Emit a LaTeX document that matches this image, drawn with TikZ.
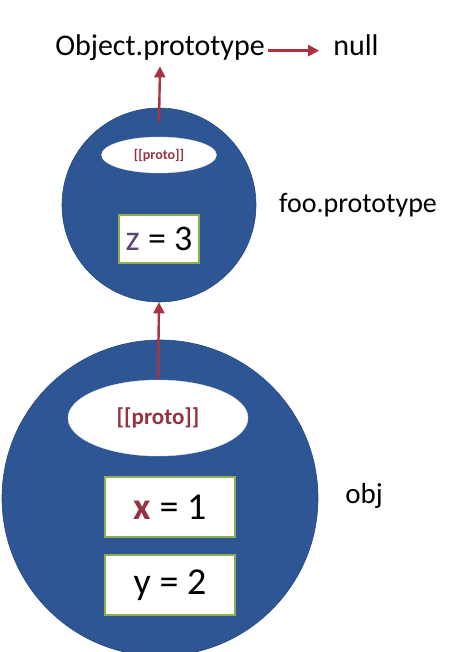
\documentclass[tikz,border=0pt]{standalone}
\usepackage{fontspec}
\setmainfont{Carlito}
\usetikzlibrary{shapes.geometric,arrows.meta}
\definecolor{blobblue}{RGB}{46,86,148}
\definecolor{linkred}{RGB}{168,52,64}
\definecolor{protored}{RGB}{150,50,65}
\definecolor{boxgreen}{RGB}{140,176,80}
\definecolor{zpurple}{RGB}{90,70,110}
\tikzset{
  blob/.style={circle, fill=blobblue, draw=blobblue!85!black, line width=0.6pt, inner sep=0pt},
  protoell/.style={ellipse, fill=white, draw=white!85!blobblue, inner sep=0pt, text=protored},
  valbox/.style={rectangle, fill=white, draw=boxgreen, line width=1.2pt, inner sep=0pt},
  label/.style={inner sep=0pt, text=black},
  link/.style={draw=linkred, line width=2.4pt, -{Triangle[length=11pt,width=11pt]}},
}
\begin{document}
\begin{tikzpicture}[x=1pt,y=-1pt]
\useasboundingbox (0,0) rectangle (464,652);
\clip (0,0) rectangle (464,652);
% texts at top
\node[label, font=\fontsize{30}{36}\selectfont, anchor=base] (objproto) at (160,56) {Object.prototype};
\node[label, font=\fontsize{30}{36}\selectfont, anchor=base] (null) at (356,56) {null};
% top circle
\node[blob, minimum size=194pt] (foo) at (159,205) {};
\node[protoell, minimum width=115pt, minimum height=36pt, font=\fontsize{14}{16}\selectfont\bfseries] (p1) at (159,155) {[[proto]]};
\node[valbox, minimum width=80pt, minimum height=48pt, font=\fontsize{36}{40}\selectfont] (z) at (159,239) {\textcolor{zpurple}{z} = 3};
\node[label, font=\fontsize{28}{32}\selectfont, anchor=base] (foolab) at (358,212) {foo.prototype};
% bottom circle
\node[blob, minimum size=316pt] (obj) at (160,498) {};
\node[protoell, minimum width=180pt, minimum height=76pt, font=\fontsize{23}{26}\selectfont\bfseries] (p2) at (158,418) {[[proto]]};
\node[valbox, minimum width=130pt, minimum height=60pt, font=\fontsize{38}{42}\selectfont] (x) at (170,507) {\textcolor{protored}{\bfseries x} = 1};
\node[valbox, minimum width=130pt, minimum height=60pt, font=\fontsize{38}{42}\selectfont] (y) at (170,585) {y = 2};
\node[label, font=\fontsize{29}{32}\selectfont, anchor=base] (objlab) at (364,503) {obj};
% connectors
\draw[link] ([xshift=3pt,yshift=3pt]objproto.mid east) -- ([xshift=-14pt,yshift=3pt]null.mid west);
\draw[link] ([yshift=15pt]p1.north) -- ([yshift=-5pt]objproto.south);
\draw[link] (p2.north) -- (foo.south);
\end{tikzpicture}
\end{document}
